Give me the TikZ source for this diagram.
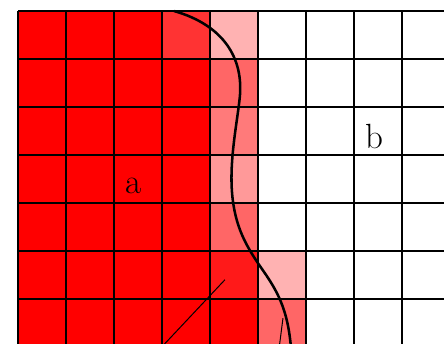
\documentclass[tikz,border=0pt]{standalone}
\usepackage{xcolor}
\usepackage{tikz}
\usetikzlibrary{calc}

\begin{document}
\begin{tikzpicture}[
    gridline/.style={line width=0.9pt, black},
    front/.style={line width=1.5pt, black},
    edge/.style={line width=0.6pt, black},
    label/.style={font=\huge},
]
\useasboundingbox (-0.375,0.0625) rectangle (8.875,7.229);
\clip (-0.375,0.0625) rectangle (8.875,7.229);

% cell colours (column, row from top, shade)
\fill[red] (0,0) rectangle (4,7);
\foreach \c/\r/\s in {3/0/80, 4/0/30, 4/1/60, 4/2/52, 4/3/40, 4/4/60, 4/5/90, 4/6/100, 5/5/30, 5/6/60}
    \fill[red!\s] (\c,6-\r) rectangle ++(1,1);

\draw[gridline] (0,-1) grid (10,7);

\draw[front] (3.25,7.0) .. controls (4.3,6.7) and (4.7,6.0) .. (4.62,5.2)
    .. controls (4.57,4.7) and (4.40,3.9) .. (4.46,3.2)
    .. controls (4.52,2.5) and (4.75,2.1) .. (5.1,1.6)
    .. controls (5.45,1.1) and (5.65,0.7) .. (5.7,-0.2);

\draw[edge] (4.31,1.40) -- (2.9,-0.1);
\draw[edge] (5.52,0.60) -- (5.43,-0.1);

\node[label] (regionA) at (2.40,3.35) {a};
\node[label] (regionB) at (7.42,4.38) {b};
\end{tikzpicture}
\end{document}
